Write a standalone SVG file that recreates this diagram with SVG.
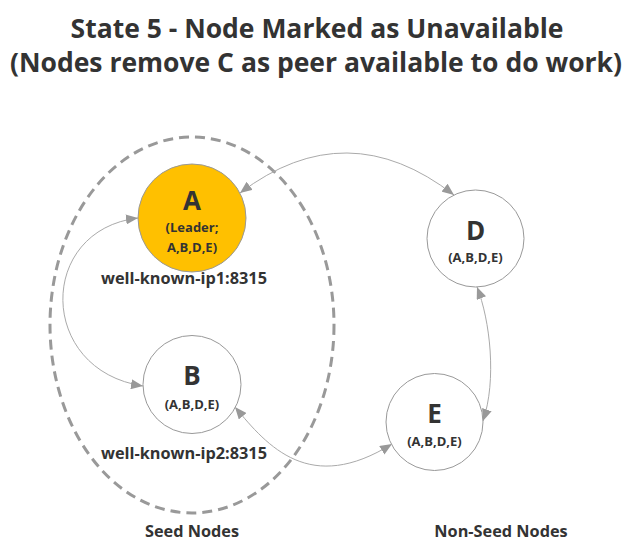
<svg xmlns="http://www.w3.org/2000/svg" width="634" height="548" viewBox="0 0 634 548">
<style>
text{font-family:"Open Sans","Noto Sans","Liberation Sans",sans-serif;font-weight:bold;fill:#333;text-anchor:middle}
.title{font-size:26.5px}
.big{font-size:26px}
.small{font-size:13px}
.lbl{font-size:16.3px}
.node{stroke:#999;stroke-width:1;fill:#fff}
.conn{fill:none;stroke:#aaa;stroke-width:1}
</style>
<defs>
<marker id="ah" viewBox="0 0 12 10" refX="12" refY="5" markerWidth="12" markerHeight="10" markerUnits="userSpaceOnUse" orient="auto-start-reverse">
<path d="M0,0 L12,5 L0,10 Z" fill="#999"/>
</marker>
</defs>
<rect width="634" height="548" fill="#fff"/>
<g id="title">
<text class="title" x="317" y="38">State 5 - Node Marked as Unavailable</text>
<text class="title" x="316" y="72">(Nodes remove C as peer available to do work)</text>
</g>
<g id="seed-group">
<ellipse cx="192" cy="325" rx="142" ry="188" fill="none" stroke="#999" stroke-width="3" stroke-dasharray="10,6"/>
<text class="lbl" x="192" y="537">Seed Nodes</text>
</g>
<g id="nonseed-label">
<text class="lbl" x="501" y="537">Non-Seed Nodes</text>
</g>
<g id="connectors">
<path class="conn" d="M240,193 Q347,112 454,195" marker-start="url(#ah)" marker-end="url(#ah)"/>
<path class="conn" d="M138,218 C37,230 37,370 143,386" marker-start="url(#ah)" marker-end="url(#ah)"/>
<path class="conn" d="M235,407 C268,447 310,495 392,444" marker-start="url(#ah)" marker-end="url(#ah)"/>
<path class="conn" d="M477,287 C490,320 497,380 483,421" marker-start="url(#ah)" marker-end="url(#ah)"/>
</g>
<g id="node-A">
<circle cx="192" cy="218" r="54" fill="#FFC000" stroke="#999" stroke-width="1"/>
<text class="big" x="192" y="210">A</text>
<text class="small" x="192" y="232">(Leader;</text>
<text class="small" x="192" y="252">A,B,D,E)</text>
<text class="lbl" x="184" y="284">well-known-ip1:8315</text>
</g>
<g id="node-B">
<circle class="node" cx="192" cy="384.5" r="49"/>
<text class="big" x="192" y="385">B</text>
<text class="small" x="192" y="409">(A,B,D,E)</text>
<text class="lbl" x="184" y="459">well-known-ip2:8315</text>
</g>
<g id="node-D">
<circle class="node" cx="475.5" cy="238.5" r="48.5"/>
<text class="big" x="475.5" y="240">D</text>
<text class="small" x="475.5" y="262">(A,B,D,E)</text>
</g>
<g id="node-E">
<circle class="node" cx="434.5" cy="422" r="48.5"/>
<text class="big" x="434.5" y="423">E</text>
<text class="small" x="434.5" y="446">(A,B,D,E)</text>
</g>
</svg>
